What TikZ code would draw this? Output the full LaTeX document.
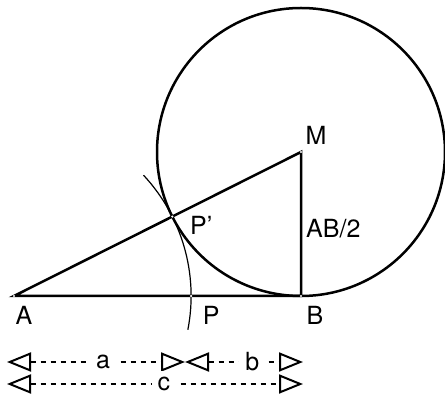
\documentclass[tikz,border=0pt]{standalone}
\usepackage{fontspec}
\setmainfont{TeX Gyre Heros}
\usetikzlibrary{arrows.meta, positioning, calc}

\begin{document}
\begin{tikzpicture}[
  x=1pt, y=1pt,
  node distance=4pt and 4pt,
  lbl/.style={inner sep=1pt, font=\fontsize{25}{29}\selectfont},
  thickline/.style={line width=2.5pt, line cap=round},
  thinarc/.style={line width=1.2pt},
  dimline/.style={line width=2pt, dash pattern=on 5pt off 5pt,
                  {Triangle[open, length=24pt, width=19pt, line width=2pt]}-{Triangle[open, length=24pt, width=19pt, line width=2pt]}},
  dimlbl/.style={fill=white, inner sep=6pt, font=\fontsize{25}{29}\selectfont},
]
\useasboundingbox (0,0) rectangle (445,396);

% ---- Punkte ----
\coordinate (A) at (14,100);
\coordinate (B) at (301,100);
\coordinate (M) at (301,244);
\coordinate (Pp) at ($(M)!144pt!(A)$);

% ---- Kreis und Dreieck ----
\draw[thickline] (M) circle[radius=144];
\draw[thickline] (A) -- (B) -- (M) -- cycle;

% ---- Bogen um A durch P' ----
\path let \p1=($(Pp)-(A)$), \n1={veclen(\x1,\y1)} in
  coordinate (P) at ($(A)+(\n1,0)$)
  coordinate (arcS) at ($(A)+(43:\n1)$);
\path let \p1=($(P)-(A)$) in
  \pgfextra{\xdef\arcrad{\x1}};
\draw[thinarc] (arcS) arc[start angle=43, end angle=-11, radius=\arcrad];

% ---- Punktmarken ----
\foreach \pt in {A, B, M, P, Pp}
  \fill[white] (\pt) circle[radius=1.2];

% ---- Beschriftung ----
\node[lbl, below right=9pt and 10pt of A, anchor=north] (lA) {A};
\node[lbl, below right=9pt and 20pt of P, anchor=north] (lP) {P};
\node[lbl, below right=9pt and 14pt of B, anchor=north] (lB) {B};
\node[lbl, above right=6pt and 15pt of M, anchor=south] (lM) {M};
\node[lbl, below right=-1pt and 29pt of Pp, anchor=north] (lPp) {P'};
\node[lbl, right=4pt of M, yshift=-77pt, anchor=west] (lAB) {AB/2};

% ---- Bemaßung ----
\coordinate (a1) at (7,34);
\coordinate (a2) at (185,34);
\coordinate (b1) at (185,34);
\coordinate (b2) at (303,34);
\coordinate (c1) at (7,12);
\coordinate (c2) at (303,12);
\draw[dimline] (a1) -- node[dimlbl, pos=0.54] (la) {a} (a2);
\draw[dimline] (b1) -- node[dimlbl, pos=0.57] (lb) {b} (b2);
\draw[dimline] (c1) -- node[dimlbl, pos=0.53] (lc) {c} (c2);

\end{tikzpicture}
\end{document}
